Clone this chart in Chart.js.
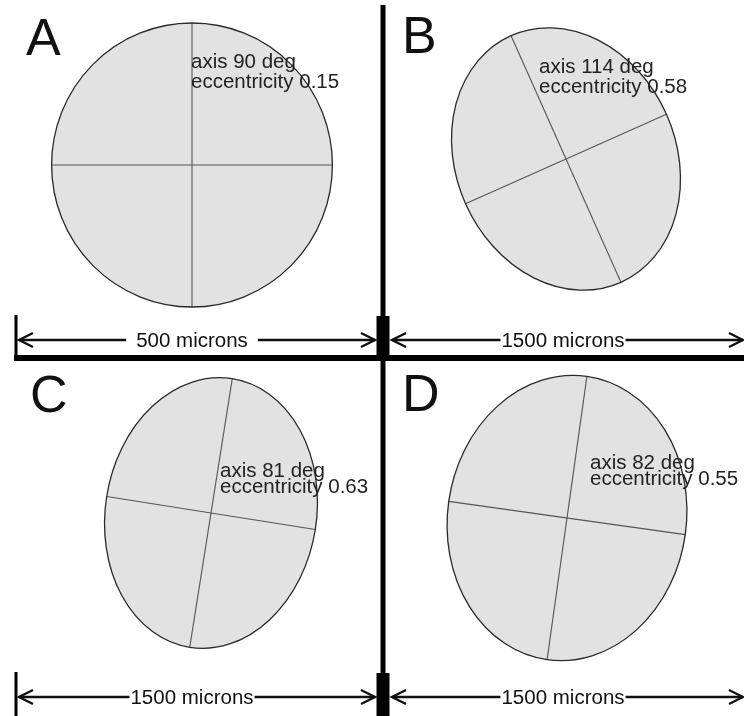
<!DOCTYPE html>
<html>
<head>
<meta charset="utf-8">
<script src="https://cdn.jsdelivr.net/npm/chart.js@4/dist/chart.umd.min.js"></script>
<style>
  html, body { margin: 0; padding: 0; background: #fff; }
  #wrap { width: 744px; height: 716px; }
</style>
</head>
<body>
<div id="wrap"><canvas id="ellipseChart" width="744" height="716"></canvas></div>
<script>
// figure values, one entry per panel
const panels = ["A", "B", "C", "D"];
const axisDeg = [90, 114, 81, 82];
const eccentricity = [0.15, 0.58, 0.63, 0.55];
const majorRadius = [142, 135, 136, 143];
const centerX = [192, 566, 211, 567];
const centerY = [165, 159, 513, 518];
const scaleLabels = ["500 microns", "1500 microns", "1500 microns", "1500 microns"];

// layout bits (text spots, scale bars)
const letterPos = [[26, 55], [402, 53], [30, 412], [402, 411]];
const notePos = [[191, 68, 20], [539, 73, 20], [220, 477, 16], [590, 469, 16]];
const barRows = [340, 697];
const barSpans = [[19, 375], [392, 743], [19, 375], [392, 743]];
const barTextX = [192, 563, 192, 563];
const barGap = [10, 1, 1, 1];

const FONT = '"Liberation Sans", Arial, Helvetica, sans-serif';

function minorRadius(i) {
  return majorRadius[i] * Math.sqrt(1 - eccentricity[i] * eccentricity[i]);
}

// major and minor axis lines of each ellipse
let datasets = [];
for (let i = 0; i < panels.length; i++) {
  const t = axisDeg[i] * Math.PI / 180;
  const a = majorRadius[i];
  const b = minorRadius(i);
  const u = t + Math.PI / 2;
  datasets.push({
    label: panels[i] + " major",
    data: [
      { x: centerX[i] + a * Math.cos(t), y: centerY[i] - a * Math.sin(t) },
      { x: centerX[i] - a * Math.cos(t), y: centerY[i] + a * Math.sin(t) },
    ],
  });
  datasets.push({
    label: panels[i] + " minor",
    data: [
      { x: centerX[i] + b * Math.cos(u), y: centerY[i] - b * Math.sin(u) },
      { x: centerX[i] - b * Math.cos(u), y: centerY[i] + b * Math.sin(u) },
    ],
  });
}
datasets.forEach((d) => {
  d.showLine = true;
  d.borderColor = "#555555";
  d.borderWidth = 1.1;
  d.pointRadius = 0;
});

function ellipsePath(chart, i) {
  const xs = chart.scales.x, ys = chart.scales.y;
  const cx = xs.getPixelForValue(centerX[i]);
  const cy = ys.getPixelForValue(centerY[i]);
  const rx = Math.abs(xs.getPixelForValue(centerX[i] + majorRadius[i]) - cx);
  const ry = Math.abs(xs.getPixelForValue(centerX[i] + minorRadius(i)) - cx);
  const ctx = chart.ctx;
  ctx.beginPath();
  ctx.ellipse(cx, cy, rx, ry, -axisDeg[i] * Math.PI / 180, 0, Math.PI * 2);
}

function arrowHead(ctx, x, y, dir) {
  ctx.beginPath();
  ctx.moveTo(x + dir * 14, y - 7);
  ctx.lineTo(x, y);
  ctx.lineTo(x + dir * 14, y + 7);
  ctx.stroke();
}

const figurePlugin = {
  id: "figure",
  beforeDatasetsDraw(chart) {
    const ctx = chart.ctx;
    ctx.save();
    ctx.fillStyle = "#e2e2e2";
    for (let i = 0; i < panels.length; i++) {
      ellipsePath(chart, i);
      ctx.fill();
    }
    ctx.restore();
  },
  afterDatasetsDraw(chart) {
    const ctx = chart.ctx;
    ctx.save();
    ctx.strokeStyle = "#2a2a2a";
    ctx.lineWidth = 1.3;
    for (let i = 0; i < panels.length; i++) {
      ellipsePath(chart, i);
      ctx.stroke();
    }
    ctx.restore();
  },
  afterDraw(chart) {
    const ctx = chart.ctx;
    const xs = chart.scales.x, ys = chart.scales.y;
    const X = (v) => xs.getPixelForValue(v);
    const Y = (v) => ys.getPixelForValue(v);
    ctx.save();

    // panel letters
    ctx.fillStyle = "#111";
    ctx.textBaseline = "alphabetic";
    ctx.textAlign = "left";
    ctx.font = "52px " + FONT;
    for (let i = 0; i < panels.length; i++) {
      ctx.fillText(panels[i], X(letterPos[i][0]), Y(letterPos[i][1]));
    }

    // axis / eccentricity notes
    ctx.fillStyle = "#222";
    ctx.font = "20.5px " + FONT;
    for (let i = 0; i < panels.length; i++) {
      const [tx, ty, gap] = notePos[i];
      ctx.fillText("axis " + axisDeg[i] + " deg", X(tx), Y(ty));
      ctx.fillText("eccentricity " + eccentricity[i].toFixed(2), X(tx), Y(ty + gap));
    }

    // frame: dividers and blocks
    ctx.fillStyle = "#000";
    ctx.fillRect(X(380.5), Y(5), 5, Y(716) - Y(5));
    ctx.fillRect(X(14), Y(355), X(744) - X(14), 6);
    ctx.fillRect(X(376.5), Y(316), 13, Y(358) - Y(316));
    ctx.fillRect(X(376.5), Y(673), 13, Y(716) - Y(673));
    ctx.fillRect(X(14.5), Y(315), 3, Y(358) - Y(315));
    ctx.fillRect(X(14.5), Y(672), 3, Y(716) - Y(672));

    // scale bars
    ctx.strokeStyle = "#111";
    ctx.lineWidth = 2.4;
    ctx.font = "20.5px " + FONT;
    ctx.textAlign = "center";
    ctx.textBaseline = "middle";
    for (let i = 0; i < scaleLabels.length; i++) {
      const y = Y(barRows[Math.floor(i / 2)]);
      const x1 = X(barSpans[i][0]), x2 = X(barSpans[i][1]);
      ctx.beginPath();
      ctx.moveTo(x1, y);
      ctx.lineTo(x2, y);
      ctx.stroke();
      arrowHead(ctx, x1, y, 1);
      arrowHead(ctx, x2, y, -1);
      const w = ctx.measureText(scaleLabels[i]).width;
      const tx = X(barTextX[i]);
      ctx.fillStyle = "#fff";
      ctx.fillRect(tx - w / 2 - barGap[i], y - 11, w + 2 * barGap[i], 22);
      ctx.fillStyle = "#111";
      ctx.fillText(scaleLabels[i], tx, y + 1);
    }
    ctx.restore();
  },
};

const ctx = document.getElementById("ellipseChart").getContext("2d");
new Chart(ctx, {
  type: "scatter",
  data: { datasets: datasets },
  options: {
    responsive: false,
    animation: false,
    events: [],
    layout: { padding: 0 },
    plugins: {
      legend: { display: false },
      tooltip: { enabled: false },
    },
    scales: {
      x: { type: "linear", min: 0, max: 744, display: false },
      y: { type: "linear", min: 0, max: 716, reverse: true, display: false },
    },
  },
  plugins: [figurePlugin],
});
</script>
</body>
</html>
